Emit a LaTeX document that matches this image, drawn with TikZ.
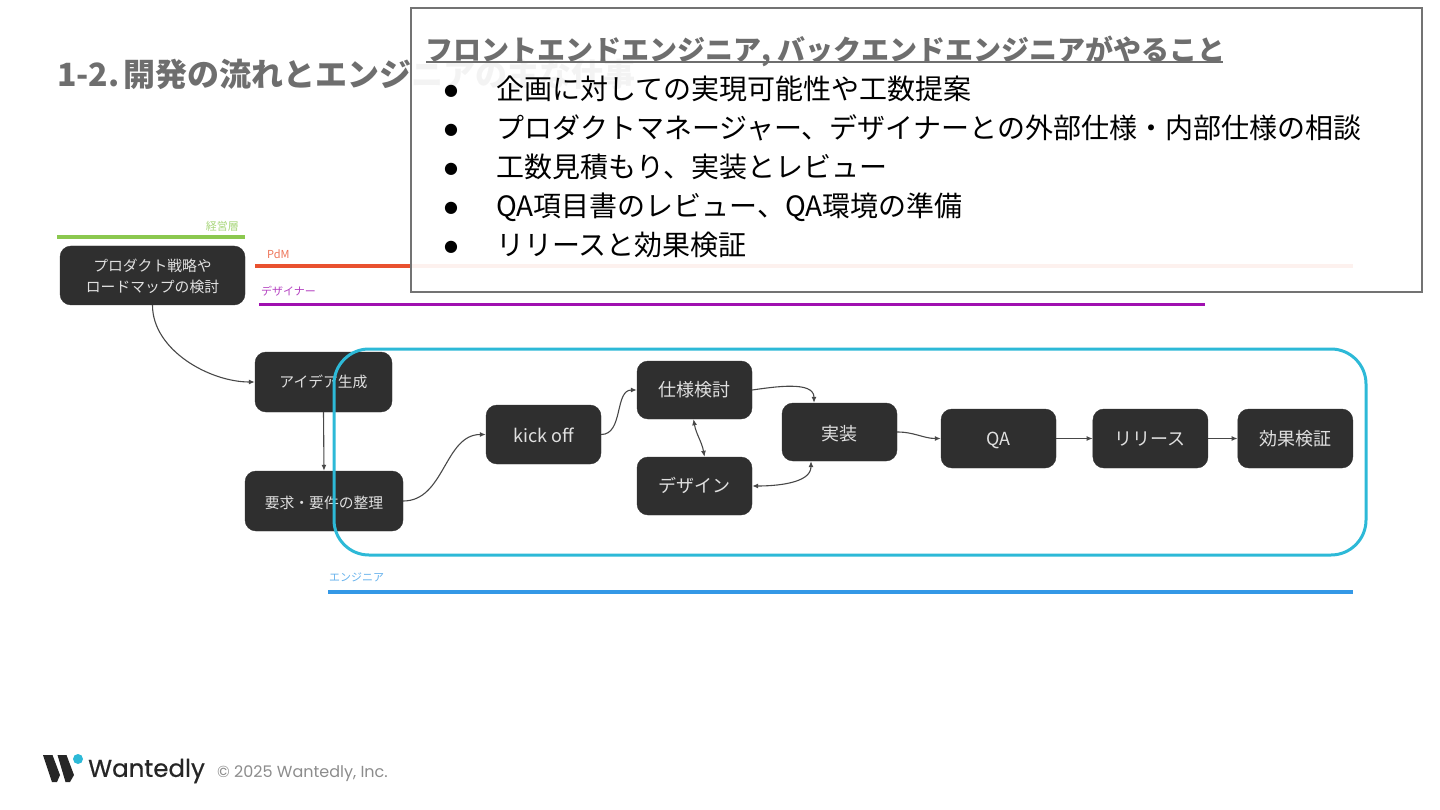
\documentclass[tikz,border=0pt]{standalone}
\usepackage{fontspec}
\usepackage{xcolor}
\usetikzlibrary{arrows.meta, positioning}
\setmainfont{Noto Sans CJK JP}
\newfontfamily\popfont{Poppins}
\newfontfamily\popbold[FakeBold=0.6]{Poppins}
\newfontfamily\dejafont{DejaVu Sans}
\definecolor{boxdark}{HTML}{2F2F2F}
\definecolor{linedark}{HTML}{484848}
\definecolor{loopcyan}{HTML}{2DB9D7}
\definecolor{titlegray}{HTML}{6E6E6E}
\definecolor{mgmtgreen}{HTML}{8BC84F}
\definecolor{pdmred}{HTML}{E9512F}
\definecolor{designpurple}{HTML}{A010B0}
\definecolor{engblue}{HTML}{3498E6}

\begin{document}
\begin{tikzpicture}[
      x=1pt, y=-1pt,
      node distance=36pt,
      stagebox/.style={draw=boxdark, line width=0.4pt, fill=boxdark, rounded corners=11pt, text=white!88!black, inner sep=0pt, minimum height=59pt, minimum width=115pt, text height=15.84pt, text depth=2.16pt, font=\fontsize{18}{24}\selectfont, align=center},
      smallbox/.style={stagebox, text height=13pt, text depth=1.8pt, font=\fontsize{14.8}{21}\selectfont},
      arr/.style={linedark, line width=1.1pt, -{Latex[length=6pt, width=5pt]}},
      twoarr/.style={arr, {Latex[length=6pt, width=5pt]}-{Latex[length=6pt, width=5pt]}},
      roleline/.style={line width=3.5pt},
      rolelabel/.style={inner sep=0pt, font=\fontsize{11}{13}\selectfont},
      listitem/.style={anchor=west, inner sep=0pt, text height=24.64pt, text depth=3.36pt, font=\fontsize{28}{32}\selectfont},
      listdot/.style={inner sep=0pt, font=\dejafont\fontsize{16}{20}\selectfont}
    ]
    \useasboundingbox (0,0) rectangle (1440,810);

    % title
    \node[anchor=west, inner sep=0pt, text=titlegray, font=\fontsize{32}{36}\selectfont\bfseries] (title) at (57,74) {1-2.\hspace{4pt}開発の流れとエンジニアの主な仕事};

    % role lines
    \coordinate (mgmtA) at (57,237);   \coordinate (mgmtB) at (245,237);
    \coordinate (pdmA) at (255,266);   \coordinate (pdmB) at (1353,266);
    \coordinate (desA) at (259,304.5); \coordinate (desB) at (1205,304.5);
    \coordinate (engA) at (328,592);   \coordinate (engB) at (1353,592);
    \draw[roleline, mgmtgreen] (mgmtA) -- (mgmtB);
    \draw[roleline, pdmred] (pdmA) -- (pdmB);
    \draw[roleline, designpurple] (desA) -- (desB);
    \draw[roleline, engblue] (engA) -- (engB);
    \node[rolelabel, anchor=east, text=mgmtgreen!75!white] (mgmt) at (239,226) {経営層};
    \node[rolelabel, anchor=west, text=pdmred!80!white] (pdm) at (267,254) {PdM};
    \node[rolelabel, anchor=west, text=designpurple!80!white] (des) at (261,291) {デザイナー};
    \node[rolelabel, anchor=west, text=engblue!75!white] (eng) at (329,577) {エンジニア};

    % flow
    \node[smallbox, minimum width=185pt, text height=, text depth=0pt] (strategy) at (152.5,275.5) {プロダクト戦略や\\ロードマップの検討};
    \node[smallbox, minimum width=137pt, minimum height=60pt] (idea) at (323.5,382) {アイデア生成};
    \node[smallbox, minimum width=158pt, minimum height=60pt, text height=15pt, text depth=0.8pt] (req) at (324,501) {要求・要件の整理};
    \node[stagebox, text height=17pt, text depth=1pt] (kick) at (543.5,434.5) {kick off};
    \node[stagebox, minimum height=58pt] (spec) at (694.5,390) {仕様検討};
    \node[stagebox, minimum height=58pt] (design) at (694.5,486) {デザイン};
    \node[stagebox, minimum height=58pt, text height=17pt, text depth=1pt] (impl) at (839.5,432) {実装};
    \node[stagebox] (qa) at (998.5,438.5) {QA};
    \node[stagebox, right=36.5pt of qa] (release) {リリース};
    \node[stagebox, right=29.5pt of release] (verify) {効果検証};

    \draw[arr] (strategy.south) to[out=-90, in=180, looseness=0.9] (idea.west);
    \draw[arr] (idea.south) -- (req.north);
    \draw[arr] (req.east) to[out=0, in=180] (kick.west);
    \draw[arr] (kick.east) to[out=0, in=180] (spec.west);
    \draw[twoarr] ([xshift=-1pt]spec.south) to[out=-80, in=100] ([xshift=10pt]design.north);
    \draw[arr] (spec.east) to[out=8, in=90, looseness=0.9] ([xshift=-25.5pt]impl.north);
    \draw[twoarr] (design.east) to[out=0, in=-90, looseness=0.9] ([xshift=-28.5pt]impl.south);
    \draw[arr] (impl.east) to[out=0, in=180] (qa.west);
    \draw[arr] (qa) -- (release);
    \draw[arr] (release) -- (verify);

    % engineer range
    \node[draw=loopcyan, line width=3pt, rounded corners=35pt, minimum width=1032pt, minimum height=206pt, inner sep=0pt] (range) at (850,452) {};

    % overlay panel
    \node[draw=black!55, line width=1.4pt, fill=white, fill opacity=0.92, draw opacity=1, minimum width=1011pt, minimum height=284pt, inner sep=0pt] (panel) at (916.5,150) {};
    \node[anchor=west, inner sep=0pt, text=titlegray, font=\fontsize{28}{32}\selectfont\bfseries] (head) at (425,51.5) {フロントエンドエンジニア, バックエンドエンジニアがやること};
    \coordinate (ulA) at (426,62.5);
    \coordinate (ulB) at (1223,62.5);
    \draw[titlegray, line width=2pt] (ulA) -- (ulB);
    \foreach \i/\ypos/\dotpos/\txt in {a/88.5/91/企画に対しての実現可能性や工数提案,
        b/127.5/130/プロダクトマネージャー、デザイナーとの外部仕様・内部仕様の相談,
        c/166.5/169/工数見積もり、実装とレビュー,
        d/205.5/208/QA項目書のレビュー、QA環境の準備,
        e/244.5/247/リリースと効果検証} {
      \node[listdot] (dot\i) at (451,\dotpos) {●};
      \node[listitem] (item\i) at (496,\ypos) {\txt};
    }

    % footer
    \fill[black!85] (43,755) -- (52.5,755) -- (60,775) -- (57,782) -- (52,782) -- cycle;
    \fill[black!85] (57.5,755) -- (66.5,755) -- (74,775) -- (70,782) -- (65.5,782) -- cycle;
    \fill[loopcyan] (78,759) circle (5);
    \node[anchor=west, inner sep=0pt, font=\popbold\fontsize{24.5}{30}\selectfont, text=black!85] (brand) at (88,771) {Wantedly};
    \node[anchor=west, inner sep=0pt, font=\popfont\fontsize{16}{18}\selectfont, text=black!45] (copy) at (217,774) {© 2025 Wantedly, Inc.};
  \end{tikzpicture}
\end{document}
